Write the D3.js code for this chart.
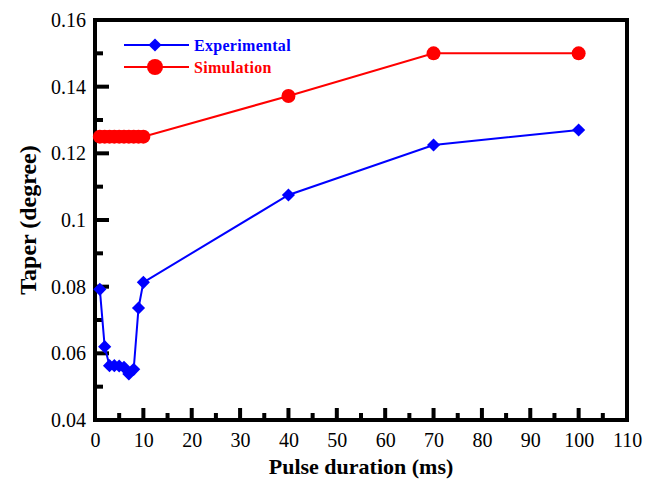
<!DOCTYPE html>
<html>
<head>
<meta charset="utf-8">
<script src="https://cdn.jsdelivr.net/npm/d3@7"></script>
<style>
  html, body { margin: 0; padding: 0; background: #fff; }
  svg { display: block; }
  text { font-family: "Liberation Serif", "Times New Roman", serif; }
</style>
</head>
<body>
<svg id="chart" width="648" height="482"></svg>
<script>
// Pulse duration (ms)
const expX = [1, 2, 3, 4, 5, 6, 7, 8, 9, 10, 40, 70, 100];
// Measured taper (degree)
const expY = [0.0792, 0.062, 0.0563, 0.0563, 0.0562, 0.0558, 0.0538, 0.0552, 0.0736, 0.0813, 0.1075, 0.1225, 0.127];
const simX = [1, 2, 3, 4, 5, 6, 7, 8, 9, 10, 40, 70, 100];
// Simulated taper (degree)
const simY = [0.125, 0.125, 0.125, 0.125, 0.125, 0.125, 0.125, 0.125, 0.125, 0.125, 0.1372, 0.15, 0.15];

const xTicks = [0, 10, 20, 30, 40, 50, 60, 70, 80, 90, 100, 110];
const xMinorTicks = [5, 15, 25, 35, 45, 55, 65, 75, 85, 95, 105];
const yTicks = [0.04, 0.06, 0.08, 0.1, 0.12, 0.14, 0.16];
const yMinorTicks = [0.05, 0.07, 0.09, 0.11, 0.13, 0.15];
const seriesNames = ["Experimental", "Simulation"];

const svg = d3.select("#chart");
const m = { left: 95, right: 627, top: 20, bottom: 420 };

const x = d3.scaleLinear().domain([0, 110]).range([m.left, m.right]);
const y = d3.scaleLinear().domain([0.04, 0.16]).range([m.bottom, m.top]);

const fmtY = d => (d === 0.1 ? "0.1" : d3.format(".2f")(d));
const FONT = "'Liberation Serif', 'Times New Roman', serif";

// Frame first, so the tick bars sit on top of it
svg.append("rect")
  .attr("x", m.left).attr("y", m.top)
  .attr("width", m.right - m.left).attr("height", m.bottom - m.top)
  .attr("fill", "none").attr("stroke", "#000").attr("stroke-width", 4);

// Axis labels
const xAxis = d3.axisBottom(x).tickValues(xTicks).tickSize(0).tickPadding(0).tickFormat(d3.format("d"));
const yAxis = d3.axisLeft(y).tickValues(yTicks).tickSize(0).tickPadding(9).tickFormat(fmtY);

function styleLabels(g) {
  g.attr("font-family", FONT);
  g.select(".domain").remove();
  g.selectAll(".tick line").remove();
  g.selectAll(".tick text").attr("fill", "#000").attr("font-size", 20);
}

svg.append("g").attr("transform", `translate(0,${m.bottom + 27})`).call(xAxis).call(styleLabels)
  .selectAll(".tick text").attr("dy", "0");
svg.append("g").attr("transform", `translate(${m.left},0)`).call(yAxis).call(styleLabels);

// Inward tick marks, drawn as solid bars
const TW = 4;
const tickG = svg.append("g").attr("fill", "#000");
const xTickSpec = xTicks.map(v => ({ v, len: 12 })).concat(xMinorTicks.map(v => ({ v, len: 7 })));
const yTickSpec = yTicks.map(v => ({ v, len: 14 })).concat(yMinorTicks.map(v => ({ v, len: 8 })));
tickG.selectAll("rect.xt").data(xTickSpec).join("rect").attr("class", "xt")
  .attr("x", d => x(d.v) - TW / 2).attr("y", d => m.bottom - d.len)
  .attr("width", TW).attr("height", d => d.len);
tickG.selectAll("rect.yt").data(yTickSpec).join("rect").attr("class", "yt")
  .attr("x", m.left).attr("y", d => y(d.v) - TW / 2)
  .attr("width", d => d.len).attr("height", TW);

const line = d3.line().x(d => x(d[0])).y(d => y(d[1]));
const expData = expX.map((v, i) => [v, expY[i]]);
const simData = simX.map((v, i) => [v, simY[i]]);

const diamond = d3.symbol().type(d3.symbolDiamond2).size(110);

// Simulation series
svg.append("path").datum(simData).attr("d", line)
  .attr("fill", "none").attr("stroke", "#ff0000").attr("stroke-width", 2);
svg.append("g").selectAll("circle").data(simData).join("circle")
  .attr("cx", d => x(d[0])).attr("cy", d => y(d[1])).attr("r", 7)
  .attr("fill", "#ff0000");

// Experimental series
svg.append("path").datum(expData).attr("d", line)
  .attr("fill", "none").attr("stroke", "#0000ff").attr("stroke-width", 2);
svg.append("g").selectAll("path").data(expData).join("path")
  .attr("d", diamond)
  .attr("transform", d => `translate(${x(d[0])},${y(d[1])})`)
  .attr("fill", "#0000ff");

// Legend
const legend = svg.append("g");
const legendRows = [
  { name: seriesNames[0], color: "#0000ff", yPos: 45, shape: "diamond" },
  { name: seriesNames[1], color: "#ff0000", yPos: 67, shape: "circle" }
];
legendRows.forEach(r => {
  legend.append("line").attr("x1", 124).attr("x2", 189).attr("y1", r.yPos).attr("y2", r.yPos)
    .attr("stroke", r.color).attr("stroke-width", 2);
  if (r.shape === "diamond") {
    legend.append("path").attr("d", diamond).attr("transform", `translate(155,${r.yPos})`).attr("fill", r.color);
  } else {
    legend.append("circle").attr("cx", 155).attr("cy", r.yPos).attr("r", 8).attr("fill", r.color);
  }
  legend.append("text").attr("x", 194).attr("y", r.yPos).attr("dy", "0.35em")
    .attr("fill", r.color).attr("font-size", 16).attr("font-weight", "bold")
    .attr("letter-spacing", "0.3").text(r.name);
});

// Axis titles
svg.append("text").attr("x", 361).attr("y", 474).attr("text-anchor", "middle")
  .attr("font-size", 22).attr("font-weight", "bold").text("Pulse duration (ms)");
svg.append("text").attr("transform", "translate(36,220) rotate(-90)").attr("text-anchor", "middle")
  .attr("font-size", 24).attr("font-weight", "bold").text("Taper (degree)");
</script>
</body>
</html>
